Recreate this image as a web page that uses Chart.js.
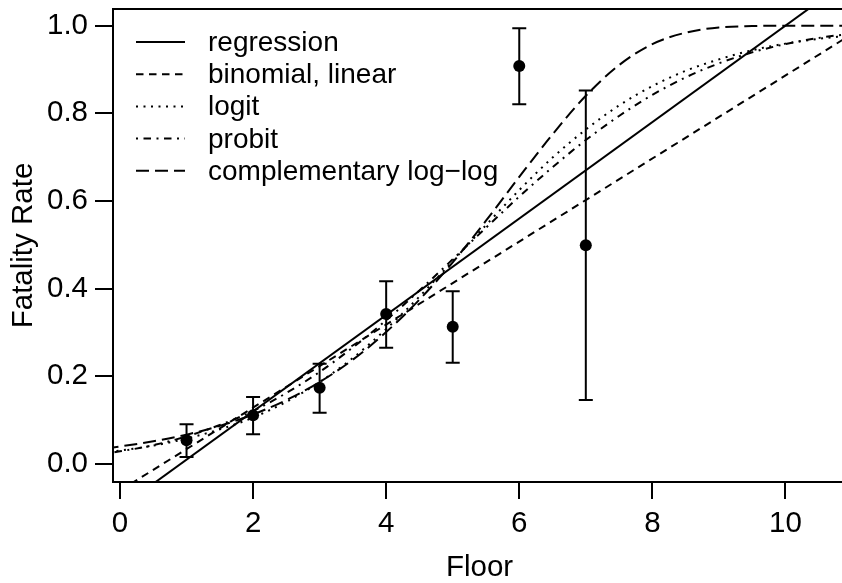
<!DOCTYPE html>
<html>
<head>
<meta charset="utf-8">
<script src="https://cdn.jsdelivr.net/npm/chart.js@4.4.1/dist/chart.umd.min.js"></script>
<style>
  html, body { margin: 0; padding: 0; background: #fff; overflow: hidden; }
  #wrap { width: 842px; height: 583px; overflow: hidden; }
</style>
</head>
<body>
<div id="wrap"><canvas id="fatalityChart" width="852" height="583"></canvas></div>
<script>
// observed rates per floor, with interval ends
const floors = [1, 2, 3, 4, 5, 6, 7];
const fatalityRate = [0.054, 0.111, 0.174, 0.342, 0.313, 0.908, 0.499];
const rateLower = [0.016, 0.068, 0.117, 0.265, 0.231, 0.821, 0.146];
const rateUpper = [0.091, 0.153, 0.229, 0.417, 0.394, 0.994, 0.852];

// straight fits, read at both ends
const lineFloors = [-0.5, 11];
const regressionFit = [-0.155, 1.11];
const binomialLinearFit = [-0.108, 0.981];

// curved fits, read every half floor
const curveFloors = [-0.5, 0, 0.5, 1, 1.5, 2, 2.5, 3, 3.5, 4, 4.5, 5, 5.5, 6, 6.5, 7, 7.5, 8, 8.5, 9, 9.5, 10, 10.5, 11];
const logitFit = [0.022, 0.031, 0.042, 0.058, 0.079, 0.106, 0.142, 0.187, 0.242, 0.308, 0.382, 0.463, 0.545, 0.625, 0.699, 0.763, 0.818, 0.862, 0.897, 0.923, 0.944, 0.959, 0.970, 0.978];
const probitFit = [0.019, 0.029, 0.043, 0.063, 0.089, 0.121, 0.162, 0.210, 0.266, 0.328, 0.396, 0.467, 0.539, 0.610, 0.677, 0.739, 0.794, 0.842, 0.882, 0.914, 0.939, 0.958, 0.972, 0.982];
const cloglogFit = [0.030, 0.040, 0.052, 0.067, 0.087, 0.113, 0.146, 0.187, 0.238, 0.301, 0.375, 0.460, 0.555, 0.655, 0.752, 0.840, 0.910, 0.958, 0.984, 0.996, 0.999, 1.000, 1.000, 1.000];

const xTicks = [0, 2, 4, 6, 8, 10];
const yTicks = [0, 0.2, 0.4, 0.6, 0.8, 1.0];
const legendLabels = ["regression", "binomial, linear", "logit", "probit", "complementary log\u2212log"];

const FONT = "'Liberation Sans', Arial, Helvetica, sans-serif";
const toXY = (xs, ys) => xs.map((v, i) => ({ x: v, y: ys[i] }));

function fitLine(label, xs, ys, dash) {
  return {
    label: label,
    data: toXY(xs, ys),
    showLine: true,
    borderColor: "#000",
    borderWidth: 2,
    borderDash: dash,
    pointRadius: 0,
    cubicInterpolationMode: "monotone",
  };
}

const lineDatasets = [
  fitLine(legendLabels[0], lineFloors, regressionFit, []),
  fitLine(legendLabels[1], lineFloors, binomialLinearFit, [7.5, 5.5]),
  fitLine(legendLabels[2], curveFloors, logitFit, [2, 5.5]),
  fitLine(legendLabels[3], curveFloors, probitFit, [2, 5.5, 7.5, 5.5]),
  fitLine(legendLabels[4], curveFloors, cloglogFit, [13, 6]),
];

const errorBars = {
  id: "errorBars",
  afterDatasetsDraw(chart) {
    const { ctx, chartArea: a } = chart;
    const x = chart.scales.x, y = chart.scales.y;
    ctx.save();
    ctx.beginPath();
    ctx.rect(a.left, a.top, a.right - a.left, a.bottom - a.top);
    ctx.clip();
    ctx.strokeStyle = "#000";
    ctx.lineWidth = 2;
    floors.forEach((f, i) => {
      const px = x.getPixelForValue(f);
      const lo = y.getPixelForValue(rateLower[i]);
      const hi = y.getPixelForValue(rateUpper[i]);
      ctx.beginPath();
      ctx.moveTo(px, lo); ctx.lineTo(px, hi);
      ctx.moveTo(px - 7, lo); ctx.lineTo(px + 7, lo);
      ctx.moveTo(px - 7, hi); ctx.lineTo(px + 7, hi);
      ctx.stroke();
    });
    ctx.restore();
  },
};

const plotBox = {
  id: "plotBox",
  afterDraw(chart) {
    const { ctx, chartArea: a } = chart;
    ctx.save();
    ctx.strokeStyle = "#000";
    ctx.lineWidth = 2;
    ctx.strokeRect(a.left, a.top, a.right - a.left, a.bottom - a.top);
    ctx.restore();
  },
};

const insideLegend = {
  id: "insideLegend",
  afterDraw(chart) {
    const { ctx } = chart;
    ctx.save();
    ctx.font = "28px " + FONT;
    ctx.fillStyle = "#000";
    ctx.strokeStyle = "#000";
    ctx.lineWidth = 2;
    ctx.textBaseline = "alphabetic";
    lineDatasets.forEach((ds, i) => {
      const ly = 42 + 32.2 * i;
      ctx.setLineDash(ds.borderDash);
      ctx.beginPath();
      ctx.moveTo(136, ly);
      ctx.lineTo(185, ly);
      ctx.stroke();
      ctx.setLineDash([]);
      ctx.fillText(ds.label, 208, ly + 9);
    });
    ctx.restore();
  },
};

new Chart(document.getElementById("fatalityChart"), {
  type: "scatter",
  data: {
    datasets: [
      {
        label: "observed",
        data: toXY(floors, fatalityRate),
        pointRadius: 6,
        pointBackgroundColor: "#000",
        pointBorderWidth: 0,
        showLine: false,
      },
      ...lineDatasets,
    ],
  },
  options: {
    responsive: false,
    animation: false,
    devicePixelRatio: 1,
    layout: { padding: { left: 0, top: 9, right: 2, bottom: 0 } },
    plugins: { legend: { display: false }, tooltip: { enabled: false } },
    scales: {
      x: {
        type: "linear",
        min: -0.105,
        max: 10.91,
        afterFit: (s) => { s.height = 101; s.paddingLeft = 0; s.paddingRight = 0; },
        afterBuildTicks: (s) => { s.ticks = xTicks.map((v) => ({ value: v })); },
        ticks: { color: "#000", font: { family: FONT, size: 29.5 }, padding: 7, maxRotation: 0 },
        grid: { drawOnChartArea: false, drawTicks: true, tickLength: 17, color: "#000", lineWidth: 2 },
        border: { display: false },
        title: { display: true, text: "Floor", color: "#000", font: { family: FONT, size: 29.5, lineHeight: 1 }, padding: 0 },
      },
      y: {
        type: "linear",
        min: -0.041,
        max: 1.038,
        afterFit: (s) => { s.width = 113; s.paddingTop = 0; s.paddingBottom = 0; },
        afterBuildTicks: (s) => { s.ticks = yTicks.map((v) => ({ value: v })); },
        ticks: { color: "#000", font: { family: FONT, size: 29.5 }, padding: 7, callback: (v) => v.toFixed(1) },
        grid: { drawOnChartArea: false, drawTicks: true, tickLength: 18, color: "#000", lineWidth: 2 },
        border: { display: false },
        title: { display: true, text: "Fatality Rate", color: "#000", font: { family: FONT, size: 29.5, lineHeight: 1 }, padding: { top: 9, bottom: 0 } },
      },
    },
  },
  plugins: [errorBars, plotBox, insideLegend],
});
</script>
</body>
</html>
